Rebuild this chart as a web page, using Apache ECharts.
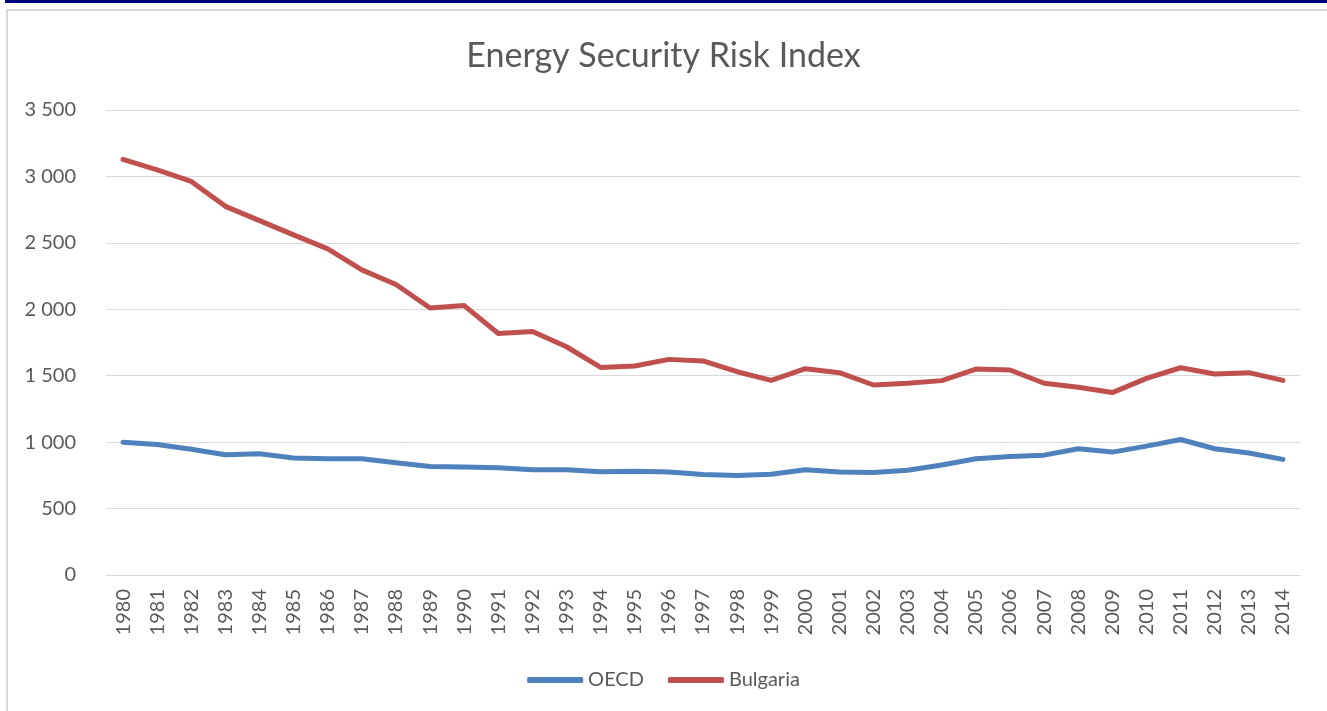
<!DOCTYPE html>
<html>
<head>
<meta charset="utf-8">
<script src="https://cdn.jsdelivr.net/npm/echarts@6/dist/echarts.min.js"></script>
<style>
  html, body { margin: 0; padding: 0; background: #fff; }
  #chart { width: 1327px; height: 711px; }
</style>
</head>
<body>
<div id="chart"></div>
<script>
const years = ['1980','1981','1982','1983','1984','1985','1986','1987','1988','1989',
  '1990','1991','1992','1993','1994','1995','1996','1997','1998','1999',
  '2000','2001','2002','2003','2004','2005','2006','2007','2008','2009',
  '2010','2011','2012','2013','2014']

const oecd = [1000, 982, 947, 905, 912, 880, 875, 875, 845, 816,
  813, 808, 793, 792, 778, 780, 775, 756, 748, 758,
  792, 775, 771, 788, 828, 875, 892, 902, 950, 925,
  970, 1020, 950, 918, 870]

const bulgaria = [3128, 3050, 2962, 2775, 2667, 2560, 2455, 2297, 2187, 2010,
  2028, 1818, 1833, 1718, 1562, 1573, 1623, 1611, 1530, 1465,
  1553, 1523, 1430, 1443, 1463, 1550, 1543, 1443, 1413, 1373,
  1480, 1560, 1513, 1523, 1465]

const textColor = '#595959'
const font = 'Lato, "Open Sans", sans-serif'

const chart = echarts.init(document.getElementById('chart'))

chart.setOption({
  animation: false,
  textStyle: { fontFamily: font },
  graphic: [
    // dark top bar + light frame of the sheet
    { type: 'rect', shape: { x: 5, y: 0, width: 1322, height: 3 }, style: { fill: '#000080' } },
    { type: 'rect', shape: { x: 7, y: 10, width: 1330, height: 720 },
      style: { fill: 'none', stroke: '#d9d9d9', lineWidth: 2 } }
  ],
  title: {
    text: 'Energy Security Risk Index',
    left: 'center',
    top: 34,
    textStyle: { color: textColor, fontSize: 34, fontWeight: 'normal', fontFamily: font }
  },
  grid: { left: 106, right: 27, top: 110, bottom: 136 },
  legend: {
    bottom: 16,
    left: 'center',
    icon: 'roundRect',
    itemWidth: 56,
    itemHeight: 6,
    itemGap: 24,
    textStyle: { color: textColor, fontSize: 20, fontFamily: font, padding: [0, 0, 0, 0] },
    data: ['OECD', 'Bulgaria']
  },
  xAxis: {
    type: 'category',
    data: years,
    boundaryGap: true,
    axisLine: { lineStyle: { color: '#d9d9d9', width: 1 } },
    axisTick: { show: false },
    axisLabel: { rotate: 90, margin: 14, color: textColor, fontSize: 20, fontFamily: font, interval: 0 }
  },
  yAxis: {
    type: 'value',
    min: 0,
    max: 3500,
    interval: 500,
    axisLine: { show: false },
    axisTick: { show: false },
    splitLine: { lineStyle: { color: '#d9d9d9', width: 1 } },
    axisLabel: {
      margin: 30,
      color: textColor,
      fontSize: 20,
      fontFamily: font,
      formatter: (v) => String(v).replace(/\B(?=(\d{3})+(?!\d))/g, ' ')
    }
  },
  series: [
    {
      name: 'OECD',
      type: 'line',
      data: oecd,
      symbol: 'none',
      itemStyle: { color: '#4f81bd' },
      lineStyle: { color: '#4f81bd', width: 5, cap: 'round', join: 'round' }
    },
    {
      name: 'Bulgaria',
      type: 'line',
      data: bulgaria,
      symbol: 'none',
      itemStyle: { color: '#c0504d' },
      lineStyle: { color: '#c0504d', width: 5, cap: 'round', join: 'round' }
    }
  ]
})
</script>
</body>
</html>
